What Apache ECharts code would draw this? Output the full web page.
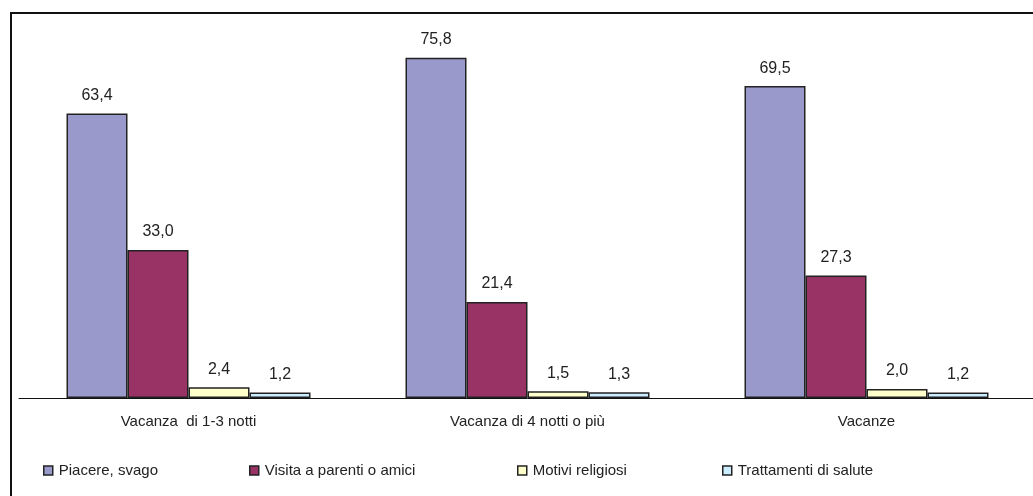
<!DOCTYPE html>
<html><head><meta charset="utf-8">
<script src="https://cdn.jsdelivr.net/npm/echarts@6/dist/echarts.min.js"></script>
<style>html,body{margin:0;padding:0;background:#fff;overflow:hidden}#c{width:1045px;height:496px}</style>
</head><body><div id="c"></div>
<script>
const categories = ['Vacanza  di 1-3 notti', 'Vacanza di 4 notti o più', 'Vacanze'];
const seriesNames = ['Piacere, svago', 'Visita a parenti o amici', 'Motivi religiosi', 'Trattamenti di salute'];
const piacere = [63.4, 75.8, 69.5];
const visita = [33.0, 21.4, 27.3];
const religiosi = [2.4, 1.5, 2.0];
const salute = [1.2, 1.3, 1.2];
const values = [piacere, visita, religiosi, salute];
const colors = ['#9999CC', '#993366', '#FFFFCC', '#CCECFF'];
const legendLeft = [43, 249, 517, 722];

const font = 'Liberation Sans, Arial, sans-serif';
const chart = echarts.init(document.getElementById('c'));
chart.setOption({
  animation: false,
  graphic: [{
    type: 'rect', shape: {x: 11, y: 13, width: 1060, height: 500},
    style: {fill: 'none', stroke: '#111', lineWidth: 2}, z: 0
  }, {
    type: 'line', shape: {x1: 21, y1: 398.5, x2: 25, y2: 398.5},
    style: {stroke: '#111', lineWidth: 1}
  }],
  legend: seriesNames.map((n, i) => ({
    data: [n], left: legendLeft[i], top: 463, itemWidth: 9, itemHeight: 9, itemGap: 6,
    icon: 'rect', padding: 0,
    itemStyle: {borderColor: '#222', borderWidth: 1.5},
    textStyle: {fontFamily: font, fontSize: 15, color: '#222', padding: [0,0,0,1]}
  })),
  grid: {left: 19, top: 39, width: 1017, height: 359, containLabel: false},
  xAxis: {
    type: 'category', data: categories,
    axisLine: {show: true, lineStyle: {color: '#111', width: 1}},
    axisTick: {show: false},
    axisLabel: {fontFamily: font, fontSize: 15, color: '#222', margin: 16}
  },
  yAxis: {type: 'value', min: 0, max: 80, show: false, splitLine: {show: false}},
  series: values.map((v, i) => ({
    type: 'bar', name: seriesNames[i], data: v,
    barGap: '0%', barWidth: 61,
    itemStyle: {color: colors[i], borderColor: '#222', borderWidth: 1.5},
    label: {show: true, position: 'top', distance: 10, fontFamily: font, fontSize: 16, color: '#222',
      formatter: p => p.value.toFixed(1).replace('.', ',')}
  }))
});
</script></body></html>
